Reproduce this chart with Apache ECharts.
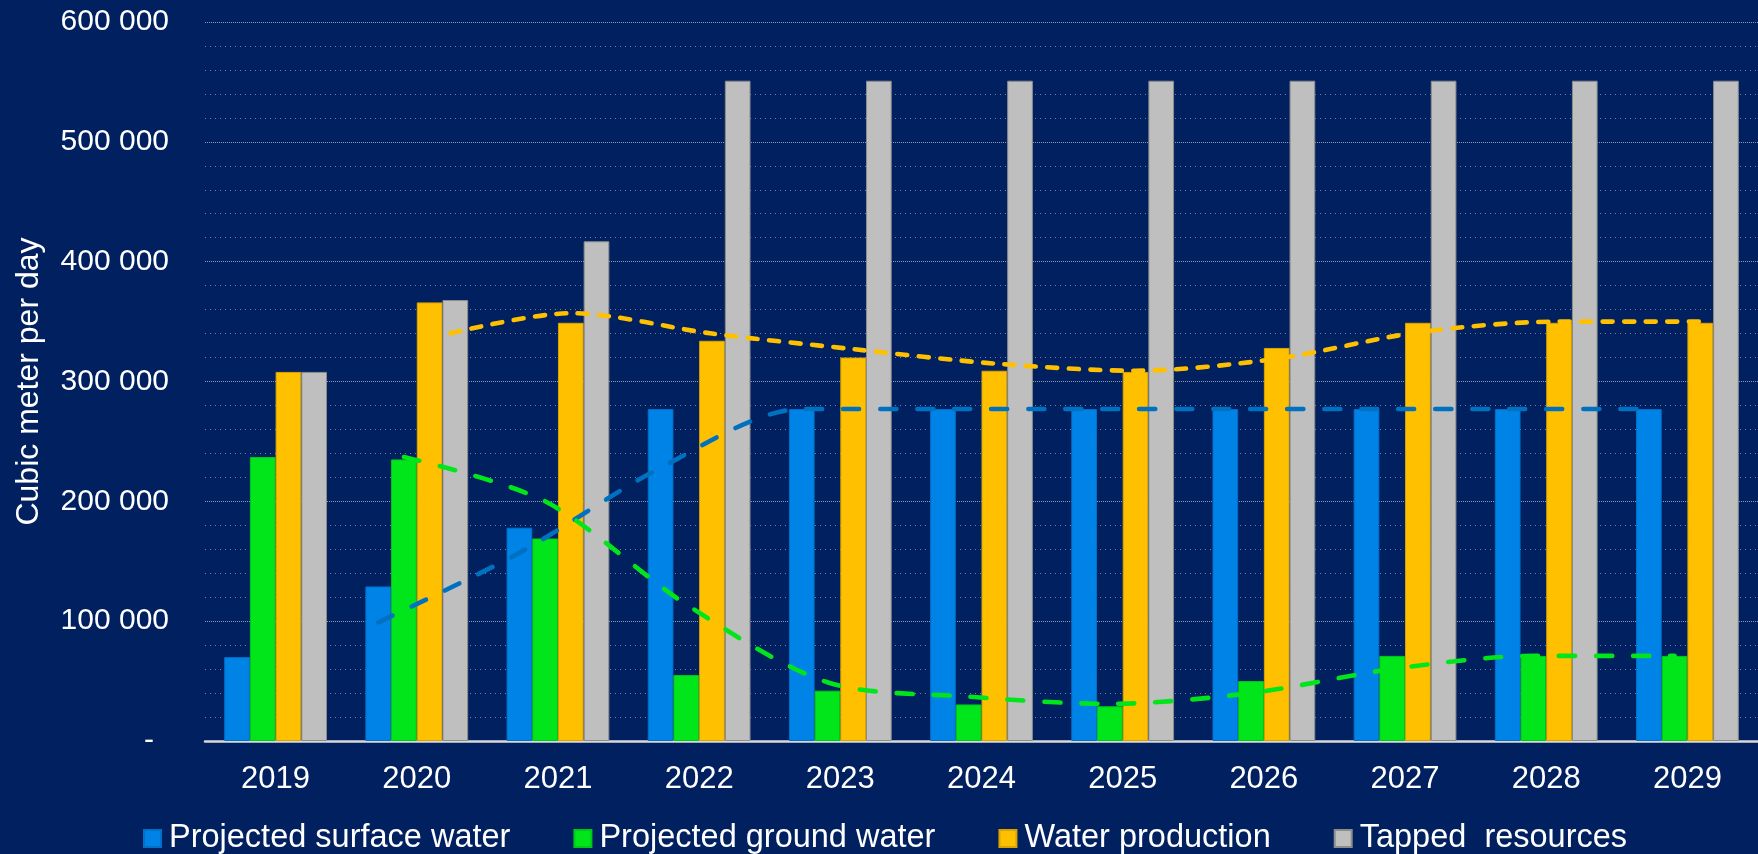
<!DOCTYPE html>
<html>
<head>
<meta charset="utf-8">
<script src="https://cdn.jsdelivr.net/npm/echarts@6/dist/echarts.min.js"></script>
<style>
html,body{margin:0;padding:0;background:#002060;}
#c{width:1758px;height:854px;}
</style>
</head>
<body>
<div id="c"></div>
<script>
// ---- data ----
const years = ['2019','2020','2021','2022','2023','2024','2025','2026','2027','2028','2029'];
const surfaceWater    = [70000,129000,178000,277000,277000,277000,277000,277000,277000,277000,277000];
const groundWater     = [237000,235000,169000,55000,42000,30500,29000,50000,71000,71000,71000];
const waterProduction = [308000,366000,349000,334000,320000,309000,308000,328000,349000,349000,349000];
const tappedResources = [308000,368000,417000,551000,551000,551000,551000,551000,551000,551000,551000];
// dashed trend lines (one per projected series)
const surfaceTrend    = [null,99000,157000,228000,277000,277000,277000,277000,277000,277000,277000];
const groundTrend     = [null,237000,200000,114000,49000,37000,31000,40000,60000,71000,71000];
const productionTrend = [null,336000,357000,340000,327000,315000,309000,319000,341000,350000,350000];
const yTicks = [0,100000,200000,300000,400000,500000,600000];
const seriesNames = ['Projected surface water','Projected ground water','Water production','Tapped  resources'];

// ---- layout ----
const BAR_W = 18.2; // percent of category band
function trendPoints(arr, k){
  const off = (k - 1.5) * BAR_W / 100;
  return arr.map((v,i)=> v==null ? null : [i + off, v]).filter(p=>p);
}
function fmt(v){
  if (v === 0) return '-\u2002';
  return String(v).replace(/\B(?=(\d{3})+(?!\d))/g, ' ');
}
const FONT = '"Liberation Sans", Arial, sans-serif';
const colors = ['#0083E6','#00E61A','#FFC000','#BFBFBF'];
const borders = ['#0070C8','#00C818','#D9A300','#8C8C8C'];

const chart = echarts.init(document.getElementById('c'));
const barSeries = [surfaceWater, groundWater, waterProduction, tappedResources].map((d,k)=>({
  name: seriesNames[k], type:'bar', data:d, barWidth: BAR_W + '%', barGap:'0%',
  itemStyle:{color:colors[k], borderColor:borders[k], borderWidth:1},
  z:2
}));
const lineStyleBase = {width:4.6, cap:'round', join:'round'};
const lineSeries = [
  {type:'line', xAxisIndex:1, data:trendPoints(surfaceTrend,0), smooth:0.3, symbol:'none',
   lineStyle:Object.assign({}, lineStyleBase, {color:'#0070C0', type:[16,21]}), z:5},
  {type:'line', xAxisIndex:1, data:trendPoints(groundTrend,1), smooth:0.3, symbol:'none',
   lineStyle:Object.assign({}, lineStyleBase, {color:'#00E61A', type:[16,21]}), z:5},
  {type:'line', xAxisIndex:1, data:trendPoints(productionTrend,2), smooth:0.3, symbol:'none',
   lineStyle:Object.assign({}, lineStyleBase, {color:'#FFC000', type:[10,11.5]}), z:5}
];

chart.setOption({
  animation:false,
  backgroundColor:'#002060',
  textStyle:{fontFamily:FONT},
  grid:{left:205, right:0, top:22, bottom:113, containLabel:false},
  legend:{
    data:seriesNames, left:143, top:822, padding:0, itemWidth:17, itemHeight:17, itemGap:63, icon:'rect',
    textStyle:{color:'#FFFFFF', fontSize:32.5, fontFamily:FONT, padding:[0,0,0,3]}
  },
  xAxis:[
    {type:'category', data:years, boundaryGap:true,
     axisLine:{show:true, lineStyle:{color:'#D9D9D9', width:2.5}},
     axisTick:{show:false},
     axisLabel:{color:'#FFFFFF', fontSize:31, margin:23, fontFamily:FONT},
     splitLine:{show:false}},
    {type:'value', min:-0.5, max:10.5, show:false, splitLine:{show:false}}
  ],
  yAxis:{
    type:'value', min:yTicks[0], max:yTicks[yTicks.length-1], interval:100000,
    name:'Cubic meter per day', nameLocation:'middle', nameGap:160, nameRotate:90,
    nameTextStyle:{color:'#FFFFFF', fontSize:32, fontFamily:FONT},
    axisLine:{show:false}, axisTick:{show:false},
    axisLabel:{color:'#FFFFFF', fontSize:30, margin:36, formatter:fmt, fontFamily:FONT},
    splitLine:{show:true, lineStyle:{color:'rgba(255,255,255,0.55)', type:[1,1], width:1}},
    minorTick:{show:false, splitNumber:5},
    minorSplitLine:{show:true, lineStyle:{color:'rgba(255,255,255,0.45)', type:[1,4], width:1}}
  },
  series: barSeries.concat(lineSeries)
});
</script>
</body>
</html>
